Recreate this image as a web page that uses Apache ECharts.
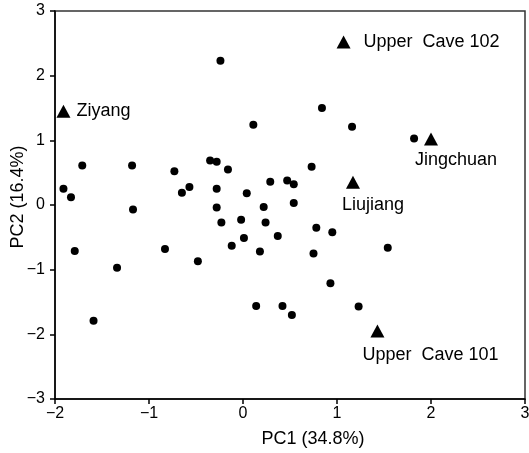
<!DOCTYPE html>
<html>
<head>
<meta charset="utf-8">
<script src="https://cdn.jsdelivr.net/npm/echarts@6/dist/echarts.min.js"></script>
<style>
  html, body { margin: 0; padding: 0; background: #fff; }
  #main { width: 529px; height: 453px; }
</style>
</head>
<body>
<div id="main"></div>
<script>
// individual specimens (dots)
var pc1 = [-1.91, -1.83, -1.71, -1.18, -1.17, -0.73, -0.65, -0.57, -0.35, -0.28,
           -0.16, -0.24, 0.11, -0.28, 0.04, -0.28, 0.22, 0.29, -0.23, -0.02,
           0.24, 0.84, 1.16, 1.82, 0.73, 0.47, 0.54, 0.54, -1.79, -1.34,
           -1.59, -0.83, -0.48, -0.12, 0.01, 0.18, 0.14, 0.78, 0.95, 0.37,
           0.75, 1.54, 0.93, 0.42, 0.52, 1.23];
var pc2 = [0.25, 0.12, 0.61, 0.61, -0.07, 0.52, 0.19, 0.28, 0.69, 0.67,
           0.55, 2.23, 1.24, 0.25, 0.18, -0.04, -0.03, 0.36, -0.27, -0.23,
           -0.27, 1.50, 1.21, 1.03, 0.59, 0.38, 0.32, 0.03, -0.71, -0.97,
           -1.79, -0.68, -0.87, -0.63, -0.51, -0.72, -1.56, -0.35, -0.42, -0.48,
           -0.75, -0.66, -1.21, -1.56, -1.70, -1.57];

// fossil specimens (triangles)
var fossilNames = ['Ziyang', 'Upper  Cave 102', 'Jingchuan', 'Liujiang', 'Upper  Cave 101'];
var fossilPc1 = [-1.91, 1.07, 2.00, 1.17, 1.43];
var fossilPc2 = [1.45, 2.52, 1.02, 0.35, -1.95];

// label placement for the fossil names
var labelOffsets = [[40, 0], [88, 0], [25, 21], [20, 23], [53, 24]];

var xTicks = { min: -2, max: 3, interval: 1 };
var yTicks = { min: -3, max: 3, interval: 1 };

var dots = [];
for (var i = 0; i < pc1.length; i++) {
    dots.push([pc1[i], pc2[i]]);
}
var fossils = [];
for (var j = 0; j < fossilNames.length; j++) {
    fossils.push({
        name: fossilNames[j],
        value: [fossilPc1[j], fossilPc2[j]],
        label: { offset: labelOffsets[j] }
    });
}

function minus(v) {
    return String(v).replace('-', '\u2212');
}

var font = 'Liberation Sans, Arial, sans-serif';

var myChart = echarts.init(document.getElementById('main'));
var option = {
    animation: false,
    grid: {
        left: 55, right: 4, top: 11, bottom: 54,
        outerBoundsMode: 'none',
        show: true,
        borderColor: '#333',
        borderWidth: 1.5
    },
    xAxis: {
        type: 'value',
        min: xTicks.min, max: xTicks.max, interval: xTicks.interval,
        name: 'PC1 (34.8%)',
        nameLocation: 'middle',
        nameGap: 31,
        nameMoveOverlap: false,
        nameTextStyle: { fontFamily: font, fontSize: 18, color: '#000', padding: [0, 0, 0, 46] },
        axisLine: { onZero: false, lineStyle: { color: '#000', width: 1.5 } },
        axisTick: { show: true, length: 5, lineStyle: { color: '#000', width: 1.5 } },
        axisLabel: { fontFamily: font, fontSize: 16, color: '#000', margin: 7, formatter: minus },
        splitLine: { show: false }
    },
    yAxis: {
        type: 'value',
        min: yTicks.min, max: yTicks.max, interval: yTicks.interval,
        name: 'PC2 (16.4%)',
        nameLocation: 'middle',
        nameGap: 28,
        nameMoveOverlap: false,
        nameTextStyle: { fontFamily: font, fontSize: 18, color: '#000', padding: [0, 0, 0, 16] },
        axisLine: { onZero: false, lineStyle: { color: '#000', width: 1.5 } },
        axisTick: { show: true, length: 5, lineStyle: { color: '#000', width: 1.5 } },
        axisLabel: { fontFamily: font, fontSize: 16, color: '#000', margin: 10, formatter: minus },
        splitLine: { show: false }
    },
    series: [
        {
            type: 'scatter',
            symbol: 'circle',
            symbolSize: 8,
            itemStyle: { color: '#000', opacity: 1 },
            data: dots
        },
        {
            type: 'scatter',
            symbol: 'triangle',
            symbolSize: [14, 13],
            itemStyle: { color: '#000', opacity: 1 },
            label: {
                show: true,
                position: 'inside',
                formatter: '{b}',
                fontFamily: font,
                fontSize: 18,
                color: '#000'
            },
            data: fossils
        }
    ]
};
myChart.setOption(option);
</script>
</body>
</html>
